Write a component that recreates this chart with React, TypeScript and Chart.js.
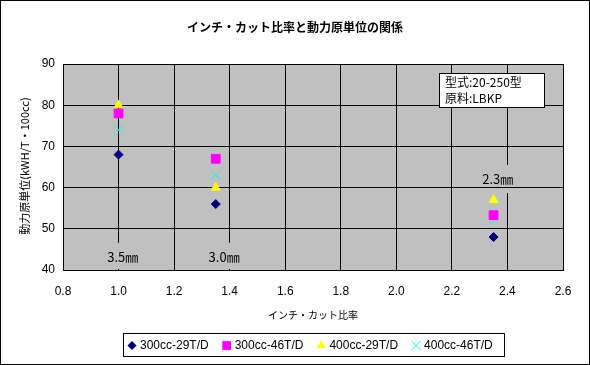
import React, { useEffect, useRef } from 'react';
import { Chart, registerables } from 'chart.js';

Chart.register(...registerables);

// ---- data ----
const inchCutRatio = [1.0, 1.35, 2.35];
const s300cc29 = [68, 56, 48];
const s300cc46 = [78, 67, 53.3];
const s400cc29 = [80, 60, 57];
const s400cc46 = [74, 63, 52];
const seriesLabels = ['300cc-29T/D', '300cc-46T/D', '400cc-29T/D', '400cc-46T/D'];
const seriesColors = ['#000080', '#FF00FF', '#FFFF00', '#00FFFF'];
const seriesStyles = ['rectRot', 'rect', 'triangle', 'crossRot'];
const seriesRadius = [4.5, 6.2, 5.2, 6.3];

const xMin = 0.8, xMax = 2.6, xStep = 0.2;
const yMin = 40, yMax = 90, yStep = 10;

const dieLabels = ['3.5㎜', '3.0㎜', '2.3㎜'];
const dieLabelX = [1.015, 1.38, 2.365];
const dieLabelY = [43.2, 43.2, 62.1];

const titleText = 'インチ・カット比率と動力原単位の関係';
const xTitle = 'インチ・カット比率';
const yTitle = '動力原単位(kWH/T・100cc)';
const infoLines = ['型式:20-250型', '原料:LBKP'];

const FONT = '"Liberation Sans", "Noto Sans CJK JP", sans-serif';
const JFONT = '"Noto Sans CJK JP", "Liberation Sans", sans-serif';
const PLOT_BG = '#C0C0C0';

function drawMarker(ctx: CanvasRenderingContext2D, style: string, x: number, y: number, r: number, color: string) {
  ctx.save();
  ctx.fillStyle = color;
  ctx.strokeStyle = color;
  ctx.lineWidth = 1;
  ctx.beginPath();
  if (style === 'rectRot') {
    ctx.moveTo(x, y - r); ctx.lineTo(x + r, y); ctx.lineTo(x, y + r); ctx.lineTo(x - r, y); ctx.closePath();
    ctx.fill();
  } else if (style === 'rect') {
    const s = Math.SQRT1_2 * r;
    ctx.rect(x - s, y - s, 2 * s, 2 * s);
    ctx.fill();
  } else if (style === 'triangle') {
    ctx.moveTo(x, y - r); ctx.lineTo(x + r * 0.866, y + r * 0.5); ctx.lineTo(x - r * 0.866, y + r * 0.5); ctx.closePath();
    ctx.fill();
  } else {
    const d = r * Math.SQRT1_2;
    ctx.moveTo(x - d, y - d); ctx.lineTo(x + d, y + d);
    ctx.moveTo(x + d, y - d); ctx.lineTo(x - d, y + d);
    ctx.stroke();
  }
  ctx.restore();
}

const align = (p: number) => Math.round(p - 0.5) + 0.5;

const decorPlugin = {
  id: 'decor',
  beforeDraw(chart: any) {
    const { ctx, chartArea: a } = chart;
    ctx.save();
    ctx.fillStyle = '#FFFFFF';
    ctx.fillRect(0, 0, chart.width, chart.height);
    ctx.fillStyle = PLOT_BG;
    ctx.fillRect(a.left, a.top, a.right - a.left, a.bottom - a.top);
    ctx.restore();
  },
  beforeDatasetsDraw(chart: any) {
    const { ctx, chartArea: a } = chart;
    const xs = chart.scales.x, ys = chart.scales.y;
    ctx.save();
    ctx.font = '13px ' + JFONT;
    ctx.textAlign = 'center';
    ctx.textBaseline = 'middle';
    const centers: Array<[number, number]> = [];
    dieLabels.forEach((t, i) => {
      const cx = xs.getPixelForValue(dieLabelX[i]);
      const cy = ys.getPixelForValue(dieLabelY[i]);
      centers.push([cx, cy]);
      const w = ctx.measureText(t).width + 8;
      const top = Math.max(a.top, cy - 14);
      const bot = Math.min(a.bottom - 1, cy + 14);
      ctx.fillStyle = PLOT_BG;
      ctx.fillRect(cx - w / 2, top, w, bot - top);
    });
    // restore horizontal grid lines hidden by label boxes
    ctx.strokeStyle = '#000';
    ctx.lineWidth = 1;
    ys.ticks.forEach((tk: any) => {
      const py = align(ys.getPixelForValue(tk.value));
      ctx.beginPath();
      ctx.moveTo(a.left, py);
      ctx.lineTo(a.right, py);
      ctx.stroke();
    });
    ctx.fillStyle = '#000';
    dieLabels.forEach((t, i) => {
      ctx.fillText(t, centers[i][0], centers[i][1]);
    });
    // plot border
    ctx.strokeRect(Math.round(a.left) + 0.5, Math.round(a.top) + 0.5, Math.round(a.right - a.left), Math.round(a.bottom - a.top));
    ctx.restore();
  },
  afterDraw(chart: any) {
    const { ctx, chartArea: a } = chart;
    ctx.save();
    ctx.fillStyle = '#000';
    // title
    ctx.font = 'bold 12px ' + JFONT;
    ctx.textAlign = 'center';
    ctx.textBaseline = 'middle';
    ctx.fillText(titleText, 295, 27);
    // x title
    ctx.font = '10px ' + JFONT;
    ctx.fillText(xTitle, (a.left + a.right) / 2, 315);
    // y title
    ctx.save();
    ctx.translate(25, 166);
    ctx.rotate(-Math.PI / 2);
    ctx.font = '11px ' + JFONT;
    ctx.fillText(yTitle, 0, 0);
    ctx.restore();

    // info box
    const bx = 439, by = 73, bw = 105, bh = 34;
    ctx.fillStyle = '#FFFFFF';
    ctx.fillRect(bx, by, bw, bh);
    ctx.strokeStyle = '#000';
    ctx.lineWidth = 1;
    ctx.strokeRect(bx + 0.5, by + 0.5, bw, bh);
    ctx.fillStyle = '#000';
    ctx.textAlign = 'left';
    ctx.font = '12px ' + JFONT;
    ctx.fillText(infoLines[0], bx + 6, by + 9);
    ctx.fillText(infoLines[1], bx + 6, by + 25);

    // legend
    const lx = 123, ly = 333, lw = 381, lh = 23;
    ctx.fillStyle = '#FFFFFF';
    ctx.fillRect(lx, ly, lw, lh);
    ctx.strokeRect(lx + 0.5, ly + 0.5, lw, lh);
    ctx.font = '12px ' + FONT;
    let mx = 132;
    const my = ly + lh / 2 + 1;
    chart.data.datasets.forEach((ds: any, i: number) => {
      drawMarker(ctx, seriesStyles[i], mx, my, seriesRadius[i], seriesColors[i]);
      ctx.fillStyle = '#000';
      ctx.textAlign = 'left';
      ctx.fillText(ds.label, mx + 8, my);
      mx += 8 + ctx.measureText(ds.label).width + 18;
    });

    // outer border
    ctx.strokeStyle = '#000';
    ctx.strokeRect(0.5, 0.5, chart.width - 1, chart.height - 1);
    ctx.restore();
  },
};

export default function App() {
  const ref = useRef<HTMLCanvasElement | null>(null);
  useEffect(() => {
    document.body.style.margin = '0';
    const series = [s300cc29, s300cc46, s400cc29, s400cc46];
    const chart = new Chart(ref.current as HTMLCanvasElement, {
      type: 'scatter',
      data: {
        datasets: series.map((vals, i) => ({
          label: seriesLabels[i],
          data: vals.map((v, j) => ({ x: inchCutRatio[j], y: v })),
          pointStyle: seriesStyles[i] as any,
          pointRadius: seriesRadius[i],
          pointHoverRadius: seriesRadius[i],
          backgroundColor: seriesColors[i],
          borderColor: seriesColors[i],
          borderWidth: 1,
          showLine: false,
        })),
      },
      options: {
        animation: false,
        responsive: false,
        events: [],
        layout: { padding: { left: 0, top: 64, right: 27, bottom: 65 } },
        plugins: { legend: { display: false }, tooltip: { enabled: false }, title: { display: false } },
        scales: {
          x: {
            type: 'linear',
            min: xMin,
            max: xMax,
            afterFit: (s: any) => { s.height = 30; },
            ticks: {
              stepSize: xStep,
              padding: 14,
              color: '#000',
              font: { size: 12, family: FONT },
              callback: (v: any) => Number(v).toFixed(1),
              maxRotation: 0,
              autoSkip: false,
            },
            grid: { color: '#000', lineWidth: 1, drawTicks: false },
            border: { display: true, color: '#000' },
          },
          y: {
            type: 'linear',
            min: yMin,
            max: yMax,
            afterFit: (s: any) => { s.width = 63; },
            ticks: {
              stepSize: yStep,
              padding: 8,
              color: '#000',
              font: { size: 12, family: FONT },
            },
            grid: { color: '#000', lineWidth: 1, drawTicks: false },
            border: { display: true, color: '#000' },
          },
        },
      },
      plugins: [decorPlugin],
    });
    return () => chart.destroy();
  }, []);
  return (
    <div style={{ width: 590, height: 365 }}>
      <canvas ref={ref} width={590} height={365} style={{ display: 'block' }} />
    </div>
  );
}
